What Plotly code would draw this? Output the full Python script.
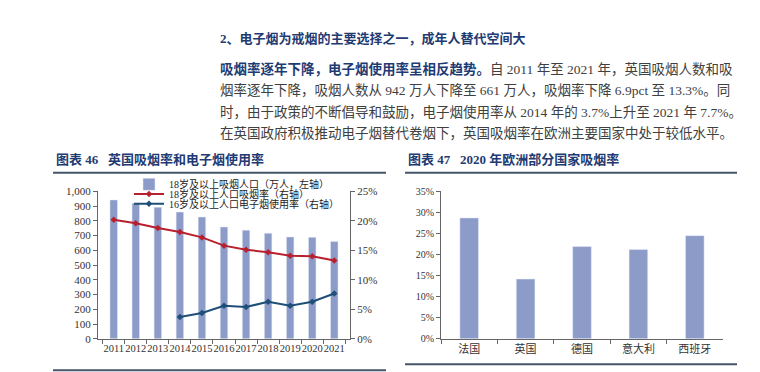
import plotly.graph_objects as go

# ---------------- data ----------------
years = ["2011", "2012", "2013", "2014", "2015", "2016", "2017", "2018", "2019", "2020", "2021"]
smokers_10k = [942, 920, 893, 860, 826, 759, 737, 716, 691, 689, 661]          # 18岁及以上吸烟人口（万人）
smoking_rate = [20.2, 19.6, 18.8, 18.1, 17.2, 15.8, 15.1, 14.7, 14.1, 14.0, 13.3]  # 18岁及以上人口吸烟率 %
ecig_years = ["2014", "2015", "2016", "2017", "2018", "2019", "2020", "2021"]
ecig_rate = [3.7, 4.4, 5.6, 5.4, 6.3, 5.6, 6.3, 7.7]                           # 16岁及以上人口电子烟使用率 %
countries = ["法国", "英国", "德国", "意大利", "西班牙"]
country_rate = [28.7, 14.2, 21.9, 21.2, 24.5]                                    # 2020年吸烟率 %

W, H = 760, 372
def px(x): return x / W
def py(y): return (H - y) / H

SERIF = "Liberation Serif, Noto Sans CJK SC"
NAVY = "#1F3B73"
BODY = "#404040"
BAR = "#8D9BC9"
RED = "#B8202E"
BLUE = "#1F4E79"
AXIS = "#666666"

fig = go.Figure()

fig.add_trace(go.Bar(x=years, y=smokers_10k, width=0.34, marker_color=BAR,
                     name="18岁及以上吸烟人口（万人，左轴）", xaxis="x", yaxis="y",
                     legend="legend"))
fig.add_trace(go.Scatter(x=years, y=smoking_rate, mode="lines+markers",
                         line=dict(color=RED, width=2), marker=dict(symbol="diamond", size=5, color=RED),
                         name="18岁及以上人口吸烟率（右轴）", xaxis="x", yaxis="y2",
                         legend="legend2"))
fig.add_trace(go.Scatter(x=ecig_years, y=ecig_rate, mode="lines+markers",
                         line=dict(color=BLUE, width=2), marker=dict(symbol="diamond", size=5, color=BLUE),
                         name="16岁及以上人口电子烟使用率（右轴）", xaxis="x", yaxis="y2",
                         legend="legend3"))
fig.add_trace(go.Bar(x=countries, y=country_rate, width=0.33, marker_color=BAR,
                     xaxis="x2", yaxis="y3", showlegend=False))

ydom = [py(335.7), py(183.3)]
tickfont = dict(family=SERIF, size=11, color="#333333")
common_axis = dict(showline=True, linecolor=AXIS, linewidth=1, ticks="outside", ticklen=4,
                   tickcolor=AXIS, showgrid=False, zeroline=False, tickfont=tickfont)

legfont = dict(family=SERIF, size=10, color="#222222")
def leg(yc):
    return dict(x=px(121), y=py(yc), xanchor="left", yanchor="middle", font=legfont,
                bgcolor="rgba(0,0,0,0)", itemwidth=30, tracegroupgap=0)

fig.update_layout(
    width=W, height=H, margin=dict(l=0, r=0, t=0, b=0),
    paper_bgcolor="white", plot_bgcolor="white",
    xaxis=dict(domain=[px(90), px(342)], type="category", tickson="boundaries", anchor="y",
               tickangle=0, **{**common_axis, "tickfont": dict(family=SERIF, size=10.5, color="#333333")}),
    yaxis=dict(domain=ydom, range=[0, 1000], dtick=100, tickformat=",d", anchor="x",
               **common_axis),
    yaxis2=dict(domain=ydom, range=[0, 25], dtick=5, ticksuffix="%", overlaying="y",
                side="right", anchor="x", **common_axis),
    xaxis2=dict(domain=[px(433), px(715)], type="category", tickson="boundaries", anchor="y3",
                tickangle=0, **common_axis),
    yaxis3=dict(domain=ydom, range=[0, 35], dtick=5, ticksuffix="%", anchor="x2",
                **{**common_axis, "tickfont": dict(family=SERIF, size=10, color="#333333")}),
    legend=leg(176), legend2=leg(186), legend3=leg(196),
)

# rules
rule = dict(color="#46566A", width=2)
for x0, x1, y in [(45, 378, 164), (397, 729, 164), (45, 378, 368), (397, 729, 362)]:
    fig.add_shape(type="line", xref="paper", yref="paper", x0=px(x0), x1=px(x1),
                  y0=py(y), y1=py(y), line=rule)

def txt(x, y, s, size=13.5, color=BODY):
    fig.add_annotation(x=px(x), y=py(y), xref="paper", yref="paper", text=s, showarrow=False,
                       xanchor="left", yanchor="middle", align="left",
                       font=dict(family=SERIF, size=size, color=color))

txt(210, 25, "<b>2、电子烟为戒烟的主要选择之一，成年人替代空间大</b>", size=13, color=NAVY)
txt(210, 57, f"<b><span style='color:{NAVY}'>吸烟率逐年下降，电子烟使用率呈相反趋势。</span></b>"
             "自 2011 年至 2021 年，英国吸烟人数和吸")
txt(210, 79, "烟率逐年下降，吸烟人数从 942 万人下降至 661 万人，吸烟率下降 6.9pct 至 13.3%。同")
txt(210, 101, "时，由于政策的不断倡导和鼓励，电子烟使用率从 2014 年的 3.7%上升至 2021 年 7.7%。")
txt(210, 123, "在英国政府积极推动电子烟替代卷烟下，英国吸烟率在欧洲主要国家中处于较低水平。")
txt(46, 150, "<b>图表 46   英国吸烟率和电子烟使用率</b>", size=13, color=NAVY)
txt(398, 150, "<b>图表 47   2020 年欧洲部分国家吸烟率</b>", size=13, color=NAVY)

fig.write_html("out.html")
